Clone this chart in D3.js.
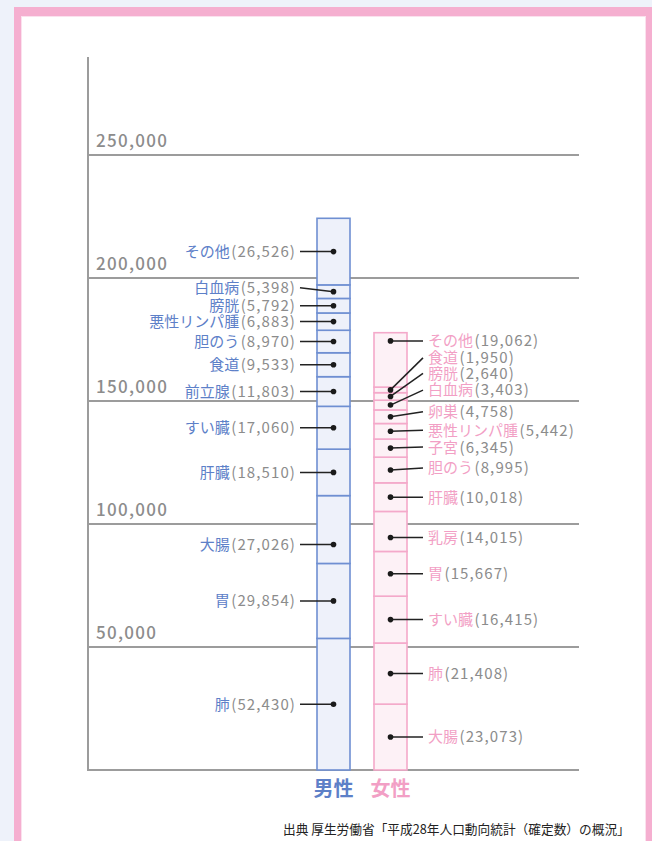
<!DOCTYPE html>
<html>
<head>
<meta charset="utf-8">
<script src="https://cdn.jsdelivr.net/npm/d3@7"></script>
<style>
  body { margin: 0; background: #eef2fa; }
  svg { display: block; font-family: "Noto Sans CJK JP", "Noto Sans", sans-serif; }
</style>
</head>
<body>
<svg id="chart"></svg>
<script>
const width = 652;
const height = 841;

// data (stacked bottom -> top)
const maleCauses = ["肺", "胃", "大腸", "肝臓", "すい臓", "前立腺", "食道", "胆のう", "悪性リンパ腫", "膀胱", "白血病", "その他"];
const maleDeaths = [52430, 29854, 27026, 18510, 17060, 11803, 9533, 8970, 6883, 5792, 5398, 26526];
const femaleCauses = ["大腸", "肺", "すい臓", "胃", "乳房", "肝臓", "胆のう", "子宮", "悪性リンパ腫", "卵巣", "白血病", "膀胱", "食道", "その他"];
const femaleDeaths = [23073, 21408, 16415, 15667, 14015, 10018, 8995, 6345, 5442, 4758, 3403, 2640, 1950, 19062];
const tickValues = [50000, 100000, 150000, 200000, 250000];
const sexLabels = ["男性", "女性"];
const sourceText = "出典 厚生労働省「平成28年人口動向統計（確定数）の概況」";

// label nudges so the small segments don't collide (pixels)
const maleShift = { "白血病": -4, "大腸": 15 };
const maleDotFollows = new Set(["大腸"]);
const femaleShift = { "その他": -19, "食道": -32, "膀胱": -23, "白血病": -15, "卵巣": -5, "悪性リンパ腫": -1, "子宮": -1, "胆のう": -2, "乳房": 6 };
const femaleDotFollows = new Set(["その他", "乳房"]);

const blue = "#5d80c8", pink = "#f29fc5", grey = "#8c8c8c", axisGrey = "#9c9c9c";

const svg = d3.select("#chart").attr("width", width).attr("height", height);

// frame
svg.append("rect").attr("x", 14).attr("y", 7).attr("width", 660).attr("height", 900).attr("fill", "#f5afd0");
svg.append("rect").attr("x", 21.5).attr("y", 16.5).attr("width", 624).attr("height", 900)
  .attr("fill", "#fff").attr("stroke", "#fbe1ee").attr("stroke-width", 1);

const plotLeft = 88, plotRight = 579, baseY = 770;

const y = d3.scaleLinear().domain([0, 250000]).range([baseY, 155]);
const yMale = d3.scaleLinear().domain([0, d3.sum(maleDeaths)]).range([baseY, 218.3]);
const yFemale = d3.scaleLinear().domain([0, d3.sum(femaleDeaths)]).range([baseY, 332.7]);

// gridlines + labels
svg.append("g").selectAll("line")
  .data([0].concat(tickValues))
  .enter().append("line")
  .attr("x1", plotLeft).attr("x2", plotRight)
  .attr("y1", d => y(d)).attr("y2", d => y(d))
  .attr("stroke", axisGrey).attr("stroke-width", 2);

svg.append("g").selectAll("text")
  .data(tickValues)
  .enter().append("text")
  .attr("x", 96).attr("y", d => y(d) - 8)
  .attr("font-size", 17).attr("font-weight", 500)
  .attr("letter-spacing", 1.3)
  .attr("fill", grey)
  .text(d => d3.format(",")(d));

svg.append("line")
  .attr("x1", plotLeft).attr("x2", plotLeft)
  .attr("y1", 57).attr("y2", baseY + 1)
  .attr("stroke", axisGrey).attr("stroke-width", 2);

const fmt = d3.format(",");

function stackOf(causes, values) {
  let acc = 0;
  return causes.map((c, i) => {
    const s = { cause: c, value: values[i], y0: acc, y1: acc + values[i] };
    acc += values[i];
    return s;
  });
}

function drawBar(stack, scale, x0, barW, fill, stroke, nameColor, side, shift, follows) {
  const g = svg.append("g");
  g.selectAll("rect")
    .data(stack)
    .enter().append("rect")
    .attr("x", x0)
    .attr("y", d => scale(d.y1))
    .attr("width", barW)
    .attr("height", d => scale(d.y0) - scale(d.y1))
    .attr("fill", fill)
    .attr("stroke", stroke)
    .attr("stroke-width", 1.6);

  const dotX = x0 + barW / 2;
  stack.forEach(d => {
    const mid = (scale(d.y0) + scale(d.y1)) / 2;
    const ly = mid + (shift[d.cause] || 0);
    const dy = follows.has(d.cause) ? ly : mid;
    const lineEnd = side === "left" ? x0 - 17 : x0 + barW + 16;
    g.append("line")
      .attr("x1", lineEnd).attr("y1", ly)
      .attr("x2", dotX).attr("y2", dy)
      .attr("stroke", "#222").attr("stroke-width", 1.5);
    g.append("circle").attr("cx", dotX).attr("cy", dy).attr("r", 2.8).attr("fill", "#1a1a1a");
    const t = g.append("text")
      .attr("x", side === "left" ? x0 - 21 : x0 + barW + 21)
      .attr("y", ly)
      .attr("dy", "0.36em")
      .attr("font-size", 15)
      .attr("text-anchor", side === "left" ? "end" : "start");
    t.append("tspan").attr("fill", nameColor).text(d.cause);
    t.append("tspan").attr("fill", grey).attr("dx", 1.5).attr("letter-spacing", 1.1).text("(" + fmt(d.value) + ")");
  });
}

drawBar(stackOf(maleCauses, maleDeaths), yMale, 317, 33, "#eef1fa", "#6f8fd2", blue, "left", maleShift, maleDotFollows);
drawBar(stackOf(femaleCauses, femaleDeaths), yFemale, 374, 33, "#fdf1f6", "#f4a9ca", pink, "right", femaleShift, femaleDotFollows);

// sex labels
svg.selectAll(".sex")
  .data(sexLabels)
  .enter().append("text")
  .attr("class", "sex")
  .attr("x", (d, i) => i === 0 ? 333.5 : 390.5)
  .attr("y", 796)
  .attr("text-anchor", "middle")
  .attr("font-size", 20)
  .attr("font-weight", "bold")
  .attr("fill", (d, i) => i === 0 ? blue : pink)
  .text(d => d);

svg.append("text")
  .attr("x", 283).attr("y", 834)
  .attr("font-size", 12.7)
  .attr("fill", "#222")
  .text(sourceText);
</script>
</body>
</html>
